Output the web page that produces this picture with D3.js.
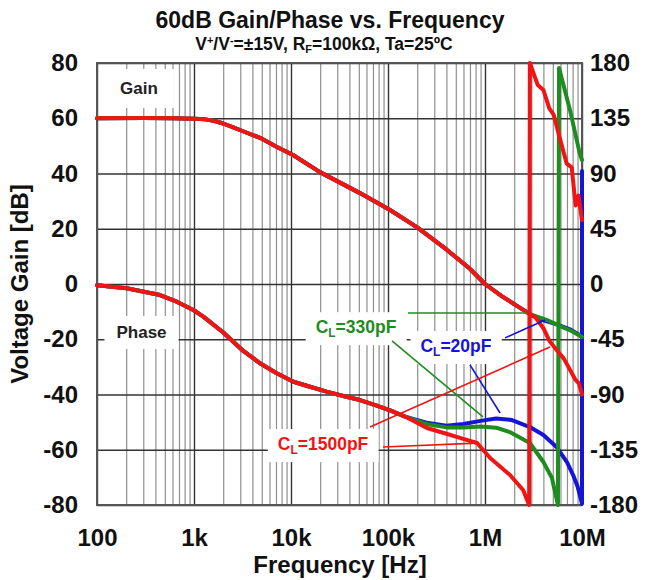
<!DOCTYPE html>
<html><head><meta charset="utf-8">
<script src="https://cdn.jsdelivr.net/npm/d3@7"></script>
<style>
body{margin:0;background:#fff;}
svg text{font-family:"Liberation Sans",Arial,Helvetica,sans-serif;font-weight:bold;}
</style></head><body>
<svg id="chart" width="648" height="580"></svg>
<script>
// ---- axis ticks ----
const gainTicks = [-80, -60, -40, -20, 0, 20, 40, 60, 80];
const phaseTicks = [-180, -135, -90, -45, 0, 45, 90, 135, 180];
const freqTicks = [1e2, 1e3, 1e4, 1e5, 1e6, 1e7];
const freqTickLabels = ["100", "1k", "10k", "100k", "1M", "10M"];

// ---- open-loop gain, identical for every load up to ~2.7 MHz ----
const gainCommonFreq = [100, 300, 600, 1000, 1300, 1600, 2000, 2500, 3200, 4800, 7000, 10500, 19900, 51400, 105000, 200000, 400000, 700000, 1000000, 1500000, 2000000, 2700000];
const gainCommonDb = [60, 60.1, 60, 59.8, 59.6, 59.1, 58.1, 56.8, 55.3, 52.9, 49.8, 46.7, 40.5, 32.9, 26.8, 20.5, 12.5, 5.5, 0, -4.5, -7.3, -10.2];

// gain beyond the split, per load capacitance
const gain1500Freq = [3.3e6, 4.0e6, 4.6e6, 5.5e6, 6.5e6, 7.5e6, 8.5e6, 9.3e6, 1e7];
const gain1500Db = [-12, -16, -20.5, -24, -27, -31, -34.5, -36, -40];
const gain330Freq = [3.0e6, 4.3e6, 6.3e6, 8e6, 1e7];
const gain330Db = [-11.1, -13, -15.6, -17.2, -19.2];
const gain20Freq = [3.0e6, 3.7e6, 5.5e6, 7.5e6, 1e7];
const gain20Db = [-11.3, -12.8, -14.6, -16.4, -19];

// ---- phase, identical for every load up to ~150 kHz ----
const phaseCommonFreq = [100, 202, 446, 663, 984, 1247, 2005, 3223, 4790, 7120, 10600, 15700, 23300, 34600, 51400, 76500, 105000, 150000];
const phaseCommonDeg = [-1, -3.5, -9, -14.4, -21.2, -26.6, -39.5, -54.5, -64.6, -72.7, -79.6, -83.7, -87.7, -91.2, -94.5, -99, -103, -108];

// phase beyond the split (wraps from -180 to +180)
const phase1500Freq = [252e3, 400e3, 552e3, 828e3, 1.13e6, 1.81e6, 2.47e6, 2.77e6, 2.85e6, 2.9e6, 3.5e6, 4.0e6, 4.6e6, 5.1e6, 5.9e6, 6.96e6, 7.83e6, 8.6e6, 9.2e6, 9.6e6, 1e7];
const phase1500Deg = [-117.3, -122, -125.4, -129.5, -141.7, -155.6, -167.8, -177.6, -180, 180, 162, 158, 143, 138, 119, 98, 95, 64, 72, 62, 52];
const phase330Freq = [250e3, 400e3, 600e3, 900e3, 1.3e6, 1.8e6, 2.9e6, 4.0e6, 4.9e6, 5.5e6, 5.65e6, 5.8e6, 7.5e6, 9.5e6, 1e7];
const phase330Deg = [-114, -116.8, -116.8, -116, -117, -120.6, -129.5, -145, -158, -176, -180, 176, 142, 106, 101];
const phase20Freq = [250e3, 400e3, 600e3, 900e3, 1.3e6, 1.9e6, 2.9e6, 4.0e6, 5.5e6, 7.0e6, 8.1e6, 9.0e6, 9.5e6, 1e7, 1e7];
const phase20Deg = [-113, -115.5, -114, -111.5, -109.5, -110.8, -116.5, -123, -133, -145, -155.6, -165, -172, -179, 92];

// ---- load labels and their leader lines (frequency, dB on the left axis) ----
const loadNames = ["330pF", "20pF", "1500pF"];
const loadColors = ["#1e8c1e", "#1515d8", "#f01414"];
const labelFreq = [46.8e3, 502e3, 21.4e3];
const labelDb = [-15.6, -22.4, -57.9];
const leaderFrom = [[[160.7e3, -10.5], [110e3, -20.6]], [[1.61e6, -19.5], [700e3, -29.3]], [[65.2e3, -51.8], [88.8e3, -59.0]]];
const leaderTo = [[[2.71e6, -10.5], [953e3, -48.1]], [[4.16e6, -13.0], [1.43e6, -46.7]], [[4.68e6, -22.8], [828e3, -57.6]]];

const M = {l: 97, r: 582, t: 63, b: 505};
const x = d3.scaleLog().domain([100, 1e7]).range([M.l, M.r]);
const yG = d3.scaleLinear().domain([-80, 80]).range([M.b, M.t]);
const yP = d3.scaleLinear().domain([-180, 180]).range([M.b, M.t]);
const svg = d3.select("#chart");

// layers, bottom to top
const gridLayer = svg.append("g");
const boxes = svg.append("g");
const frameLayer = svg.append("g");
const curves = svg.append("g").attr("fill", "none").attr("stroke-width", 4)
  .attr("stroke-linejoin", "round").attr("stroke-linecap", "round");
const leaders = svg.append("g").attr("stroke-width", 1.6);
const labels = svg.append("g");
const axisLayer = svg.append("g");

// grid
const minorFreq = [];
for (let d = 100; d < 1e7; d *= 10) for (let k = 2; k <= 9; k++) minorFreq.push(d * k);
const gridStyle = (col, w) => g => {
  g.select(".domain").remove();
  g.selectAll("line").attr("stroke", col).attr("stroke-width", w);
};
gridLayer.append("g").attr("transform", `translate(0,${M.b})`)
  .call(d3.axisBottom(x).tickValues(minorFreq).tickSize(-(M.b - M.t)).tickFormat(""))
  .call(gridStyle("#8e8e8e", 1.2));
gridLayer.append("g").attr("transform", `translate(0,${M.b})`)
  .call(d3.axisBottom(x).tickValues(freqTicks).tickSize(-(M.b - M.t)).tickFormat(""))
  .call(gridStyle("#333", 1.4));
gridLayer.append("g").attr("transform", `translate(${M.l},0)`)
  .call(d3.axisLeft(yG).tickValues(gainTicks).tickSize(-(M.r - M.l)).tickFormat(""))
  .call(gridStyle("#333", 1.4));

// frame
frameLayer.append("rect").attr("x", M.l).attr("y", M.t).attr("width", M.r - M.l).attr("height", M.b - M.t)
  .attr("fill", "none").attr("stroke", "#555").attr("stroke-width", 2);

// tick labels
const tickText = g => {
  g.select(".domain").remove();
  g.attr("font-family", null).attr("font-size", null);
  g.selectAll("text").attr("fill", "#111").style("font-size", "24px");
};
axisLayer.append("g").attr("transform", `translate(${M.l},0)`)
  .call(d3.axisLeft(yG).tickValues(gainTicks).tickFormat(d => String(d)).tickSize(0).tickPadding(19)).call(tickText);
axisLayer.append("g").attr("transform", `translate(${M.r},0)`)
  .call(d3.axisRight(yP).tickValues(phaseTicks).tickFormat(d => String(d)).tickSize(0).tickPadding(8)).call(tickText);
axisLayer.append("g").attr("transform", `translate(0,${M.b})`)
  .call(d3.axisBottom(x).tickValues(freqTicks).tickFormat((d, i) => freqTickLabels[i]).tickSize(0).tickPadding(24)).call(tickText);

// curves
const gainLine = d3.line().x(d => x(d[0])).y(d => yG(d[1]));
const phaseLine = d3.line().x(d => x(d[0])).y(d => yP(d[1]));
const zip = (a, b) => a.map((v, i) => [v, b[i]]);
const gainCommon = zip(gainCommonFreq, gainCommonDb);
const phaseCommon = zip(phaseCommonFreq, phaseCommonDeg);

const series = [
  {color: loadColors[1], gain: zip(gain20Freq, gain20Db), phase: zip(phase20Freq, phase20Deg)},
  {color: loadColors[0], gain: zip(gain330Freq, gain330Db), phase: zip(phase330Freq, phase330Deg)},
  {color: loadColors[2], gain: zip(gain1500Freq, gain1500Db), phase: zip(phase1500Freq, phase1500Deg)}
];
series.forEach(s => {
  curves.append("path").attr("stroke", s.color).attr("d", phaseLine(phaseCommon.concat(s.phase)));
  curves.append("path").attr("stroke", s.color).attr("d", gainLine(gainCommon.concat(s.gain)));
});

// leader lines
loadNames.forEach((n, i) => {
  leaderFrom[i].forEach((p, j) => {
    const q = leaderTo[i][j];
    leaders.append("line").attr("stroke", loadColors[i])
      .attr("x1", x(p[0])).attr("y1", yG(p[1])).attr("x2", x(q[0])).attr("y2", yG(q[1]));
  });
});

// in-plot labels with a white backing box
function inPlotLabel(cx, cy, parts, color, size, padX, padY) {
  const t = labels.append("text").attr("x", cx).attr("y", cy).attr("text-anchor", "middle")
    .attr("dy", "0.35em").attr("fill", color).style("font-size", size + "px");
  parts.forEach(p => {
    const s = t.append("tspan").text(p.text);
    if (p.sub) s.attr("dy", 4).style("font-size", (size * 0.68) + "px");
    if (p.after) s.attr("dy", -4);
  });
  const b = t.node().getBBox();
  boxes.append("rect").attr("x", b.x - padX).attr("y", b.y - padY)
    .attr("width", b.width + 2 * padX).attr("height", b.height + 2 * padY).attr("fill", "#fff");
}
inPlotLabel(139, 88, [{text: "Gain"}], "#222", 17, 16, 10);
inPlotLabel(141.5, 332, [{text: "Phase"}], "#222", 17, 12, 7);
loadNames.forEach((n, i) => {
  inPlotLabel(x(labelFreq[i]), yG(labelDb[i]),
    [{text: "C"}, {text: "L", sub: true}, {text: "=" + n, after: true}], loadColors[i], 17.5, 10, 5);
});

// titles
svg.append("text").attr("x", 330).attr("y", 28).attr("text-anchor", "middle").attr("fill", "#111")
  .style("font-size", "23px").text("60dB Gain/Phase vs. Frequency");
const sub = svg.append("text").attr("x", 324).attr("y", 50).attr("text-anchor", "middle").attr("fill", "#111")
  .style("font-size", "17.5px");
sub.append("tspan").text("V");
sub.append("tspan").attr("dy", -6).style("font-size", "11px").text("+");
sub.append("tspan").attr("dy", 6).text("/V");
sub.append("tspan").attr("dy", -6).style("font-size", "11px").text("-");
sub.append("tspan").attr("dy", 6).text("=±15V, R");
sub.append("tspan").attr("dy", 3).style("font-size", "11px").text("F");
sub.append("tspan").attr("dy", -3).text("=100kΩ, Ta=25ºC");

svg.append("text").attr("x", 340).attr("y", 573).attr("text-anchor", "middle").attr("fill", "#111")
  .style("font-size", "24px").text("Frequency [Hz]");
svg.append("text").attr("transform", "translate(28,284) rotate(-90)").attr("text-anchor", "middle")
  .attr("fill", "#111").style("font-size", "24px").text("Voltage Gain [dB]");
</script></body></html>
